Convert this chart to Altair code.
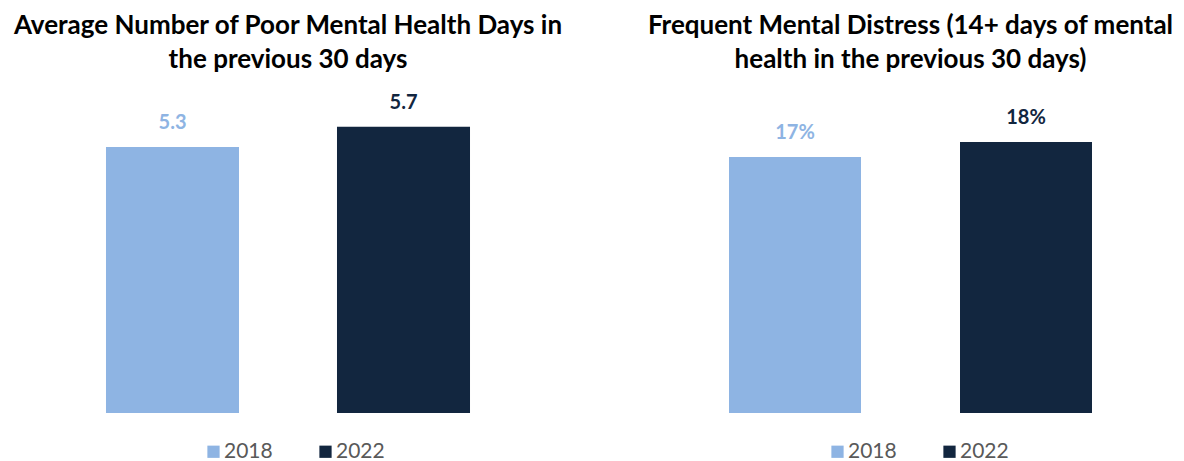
import altair as alt
import pandas as pd

years = ["2018", "2022"]
colors = ["#8EB4E3", "#12263F"]

days_values = [5.3, 5.7]
days_labels = ["5.3", "5.7"]
days_title = ["Average Number of Poor Mental Health Days in", "the previous 30 days"]

distress_values = [17, 18]
distress_labels = ["17%", "18%"]
distress_title = ["Frequent Mental Distress (14+ days of mental", "health in the previous 30 days)"]

FONT = "Lato"
H = 322


def panel(values, labels, title, ymax, width, p_inner, p_outer, legend_x):
    df = pd.DataFrame({"year": years, "value": values, "label": labels})
    base = alt.Chart(df).encode(
        x=alt.X("year:N", sort=years, axis=None,
                scale=alt.Scale(paddingInner=p_inner, paddingOuter=p_outer)),
        y=alt.Y("value:Q", axis=None, scale=alt.Scale(domain=[0, ymax], nice=False, zero=True)),
        color=alt.Color("year:N", sort=years,
                        scale=alt.Scale(domain=years, range=colors),
                        legend=alt.Legend(title=None, orient="none", direction="horizontal",
                                          legendX=legend_x, legendY=350,
                                          symbolType="square", symbolSize=150,
                                          symbolStrokeWidth=0,
                                          labelFont=FONT, labelFontSize=21,
                                          labelColor="#595959", labelOffset=0,
                                          columnPadding=42)),
    )
    bars = base.mark_bar()
    text = base.mark_text(baseline="alphabetic", dy=-18, font=FONT, fontWeight="bold",
                          fontSize=20).encode(text="label:N")
    return alt.layer(bars, text).properties(
        width=width, height=H,
        title=alt.Title(text=title, font=FONT, fontSize=26, fontWeight="bold",
                        color="#000000", lineHeight=34, anchor="middle", offset=18),
    )


left = panel(days_values, days_labels, days_title, H / 50.2, 560, 0.4242, 0.4242, 195)
right = panel(distress_values, distress_labels, distress_title, H / 15.06, 521, 0.4286, 0.342, 177)

chart = alt.hconcat(left, right, spacing=79).resolve_scale(
    color="independent", x="independent", y="independent"
).resolve_legend(color="independent").properties(
    padding={"left": 0, "top": 5, "right": 0, "bottom": 0}
).configure_view(stroke=None)

chart.save("out.html", embed_options={"renderer": "svg", "actions": False})
